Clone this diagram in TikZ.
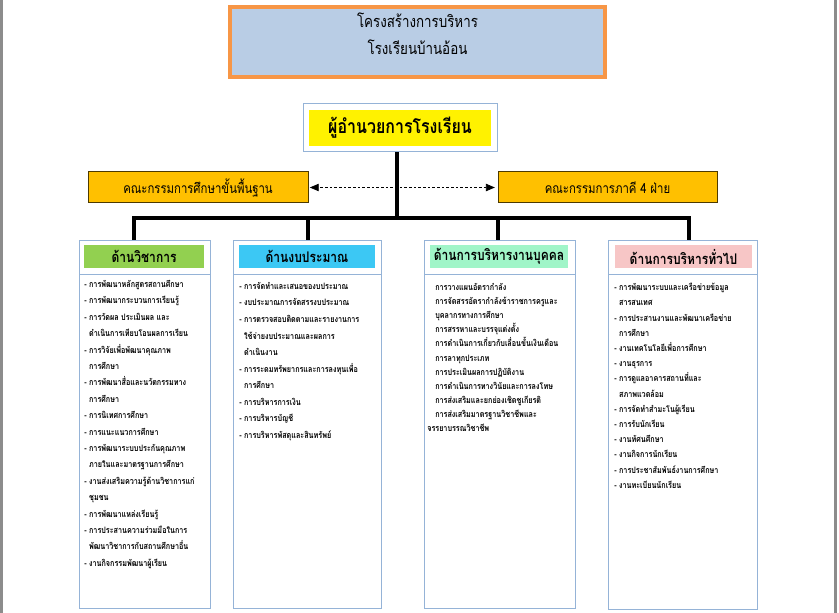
\documentclass[tikz,border=0pt]{standalone}
\usepackage{fontspec}
\setmainfont{Loma}[Script=Thai,FakeStretch=0.82]
\usepackage{tikz}
\usetikzlibrary{arrows}
\usetikzlibrary{positioning}
\usetikzlibrary{shadows}
\usetikzlibrary{fit}
\definecolor{pagegray}{HTML}{8C8C8C}
\definecolor{titleblue}{HTML}{B9CDE5}
\definecolor{titleorange}{HTML}{F79646}
\definecolor{frameblue}{HTML}{95B3D7}
\definecolor{comgold}{HTML}{FFC000}
\definecolor{comline}{HTML}{4D3A00}
\definecolor{headgreen}{HTML}{92D050}
\definecolor{headcyan}{HTML}{3CC8F4}
\definecolor{headmint}{HTML}{A0F5C8}
\definecolor{headpink}{HTML}{F7C6C6}

\begin{document}
\begin{tikzpicture}[line join=miter,>=triangle 45,x=0.75pt,y=-0.75pt,
  frame/.style={draw=frameblue,line width=0.75pt,inner sep=0pt},
  headbox/.style={fill=#1,inner sep=0pt},
  headtext/.style={inner sep=0pt,font=\bfseries\fontsize{11}{13}\selectfont},
  combox/.style={draw=comline,fill=comgold,line width=0.75pt,inner sep=0pt},
  comtext/.style={inner sep=0pt,font=\fontsize{10.4}{12}\selectfont},
  itemlist/.style={anchor=north west,inner sep=0pt,align=left,font=\bfseries\fontsize{6.6}{#1}\selectfont},
  link/.style={line width=2.4pt}]
\useasboundingbox (0,0) rectangle (839,613);
\draw [pagegray,line width=2.2pt] (1.5,0) -- (1.5,613);
\draw [pagegray,line width=2.2pt] (835.5,0) -- (835.5,613);

\node [draw=titleorange,line width=3pt,fill=titleblue,inner sep=0pt,drop shadow={opacity=0.2,shadow xshift=1pt,shadow yshift=-1.5pt},fit={(230,7) (605,77)}] (title) {};
\node [align=center,font=\fontsize{12.2}{20}\selectfont] (titletext) at (417.5,33.5) {โครงสร้างการบริหาร\\โรงเรียนบ้านอ้อน};

\node [frame,fit={(303,104) (497,152)}] (dir) {};
\node [fill=yellow,inner sep=0pt,fit={(309,110) (491,146)}] (dirbox) {};
\node [inner sep=0pt,font=\bfseries\fontsize{14.6}{16}\selectfont] (dirtext) at (dirbox) {ผู้อำนวยการโรงเรียน};

\node [combox,fit={(88,172) (308,203)}] (kpt) {};
\node [comtext] (kpttext) at (kpt) {คณะกรรมการศึกษาขั้นพื้นฐาน};
\node [combox,fit={(498,172) (717,203)}] (kp4) {};
\node [comtext] (kp4text) at (kp4) {คณะกรรมการภาคี 4 ฝ่าย};
\draw [<->,line width=0.5pt,dash pattern=on 2pt off 1.5pt,shorten <=1pt,shorten >=2pt] (kpt.east) -- (kp4.west);

\node [frame,fit={(79,240) (210,274)}] (top1) {};
\node [frame,fit={(79,274) (210,608)}] (list1) {};
\node [headbox=headgreen,fit={(84,245) (204,268)}] (head1) {};
\node [headtext] (h1) at (head1) {ด้านวิชาการ};
\node [frame,fit={(233,240) (381,274)}] (top2) {};
\node [frame,fit={(233,274) (381,608)}] (list2) {};
\node [headbox=headcyan,fit={(239,245) (375,268)}] (head2) {};
\node [headtext] (h2) at (head2) {ด้านงบประมาณ};
\node [frame,fit={(424,240) (575,274)}] (top3) {};
\node [frame,fit={(424,274) (575,608)}] (list3) {};
\node [headbox=headmint,fit={(430,245) (568,268)}] (head3) {};
\node [headtext] (h3) at (head3) {ด้านการบริหารงานบุคคล};
\node [frame,fit={(608,240) (757,274)}] (top4) {};
\node [frame,fit={(608,274) (757,609)}] (list4) {};
\node [headbox=headpink,fit={(615,245) (752,268)}] (head4) {};
\node [headtext] (h4) at (head4) {ด้านการบริหารทั่วไป};

\coordinate (bar) at (397,218);
\coordinate (d1) at (134,218);
\coordinate (d2) at (308,218);
\coordinate (d3) at (498,218);
\coordinate (d4) at (689,218);
\draw [link] (bar |- dir.south) -- (bar);
\draw [link] (top1.north -| d1) -- (d1) -- (d4) -- (top4.north -| d4);
\draw [link] (d2) -- (top2.north -| d2);
\draw [link] (d3) -- (top3.north -| d3);

\node [itemlist=12.3] (items1) at (84,280) {- การพัฒนาหลักสูตรสถานศึกษา\\
- การพัฒนากระบวนการเรียนรู้\\
- การวัดผล ประเมินผล และ\\
\hphantom{- }ดำเนินการเทียบโอนผลการเรียน\\
- การวิจัยเพื่อพัฒนาคุณภาพ\\
\hphantom{- }การศึกษา\\
- การพัฒนาสื่อและนวัตกรรมทาง\\
\hphantom{- }การศึกษา\\
- การนิเทศการศึกษา\\
- การแนะแนวการศึกษา\\
- การพัฒนาระบบประกันคุณภาพ\\
\hphantom{- }ภายในและมาตรฐานการศึกษา\\
- งานส่งเสริมความรู้ด้านวิชาการแก่\\
\hphantom{- }ชุมชน\\
- การพัฒนาแหล่งเรียนรู้\\
- การประสานความร่วมมือในการ\\
\hphantom{- }พัฒนาวิชาการกับสถานศึกษาอื่น\\
- งานกิจกรรมพัฒนาผู้เรียน};

\node [itemlist=12.4] (items2) at (239,282) {- การจัดทำและเสนอของบประมาณ\\
- งบประมาณการจัดสรรงบประมาณ\\
- การตรวจสอบติดตามและรายงานการ\\
\hphantom{- }ใช้จ่ายงบประมาณและผลการ\\
\hphantom{- }ดำเนินงาน\\
- การระดมทรัพยากรและการลงทุนเพื่อ\\
\hphantom{- }การศึกษา\\
- การบริหารการเงิน\\
- การบริหารบัญชี\\
- การบริหารพัสดุและสินทรัพย์};

\node [itemlist=10.6] (items3) at (427,283) {\hspace*{6pt}การวางแผนอัตรากำลัง\\
\hspace*{6pt}การจัดสรรอัตรากำลังข้าราชการครูและ\\
\hspace*{6pt}บุคลากรทางการศึกษา\\
\hspace*{6pt}การสรรหาและบรรจุแต่งตั้ง\\
\hspace*{6pt}การดำเนินการเกี่ยวกับเลื่อนขั้นเงินเดือน\\
\hspace*{6pt}การลาทุกประเภท\\
\hspace*{6pt}การประเมินผลการปฏิบัติงาน\\
\hspace*{6pt}การดำเนินการทางวินัยและการลงโทษ\\
\hspace*{6pt}การส่งเสริมและยกย่องเชิดชูเกียรติ\\
\hspace*{6pt}การส่งเสริมมาตรฐานวิชาชีพและ\\
จรรยาบรรณวิชาชีพ};

\node [itemlist=11.4] (items4) at (614,283) {- การพัฒนาระบบและเครือข่ายข้อมูล\\
\hphantom{- }สารสนเทศ\\
- การประสานงานและพัฒนาเครือข่าย\\
\hphantom{- }การศึกษา\\
- งานเทคโนโลยีเพื่อการศึกษา\\
- งานธุรการ\\
- การดูแลอาคารสถานที่และ\\
\hphantom{- }สภาพแวดล้อม\\
- การจัดทำสำมะโนผู้เรียน\\
- การรับนักเรียน\\
- งานทัศนศึกษา\\
- งานกิจการนักเรียน\\
- การประชาสัมพันธ์งานการศึกษา\\
- งานทะเบียนนักเรียน};
\end{tikzpicture}
\end{document}
